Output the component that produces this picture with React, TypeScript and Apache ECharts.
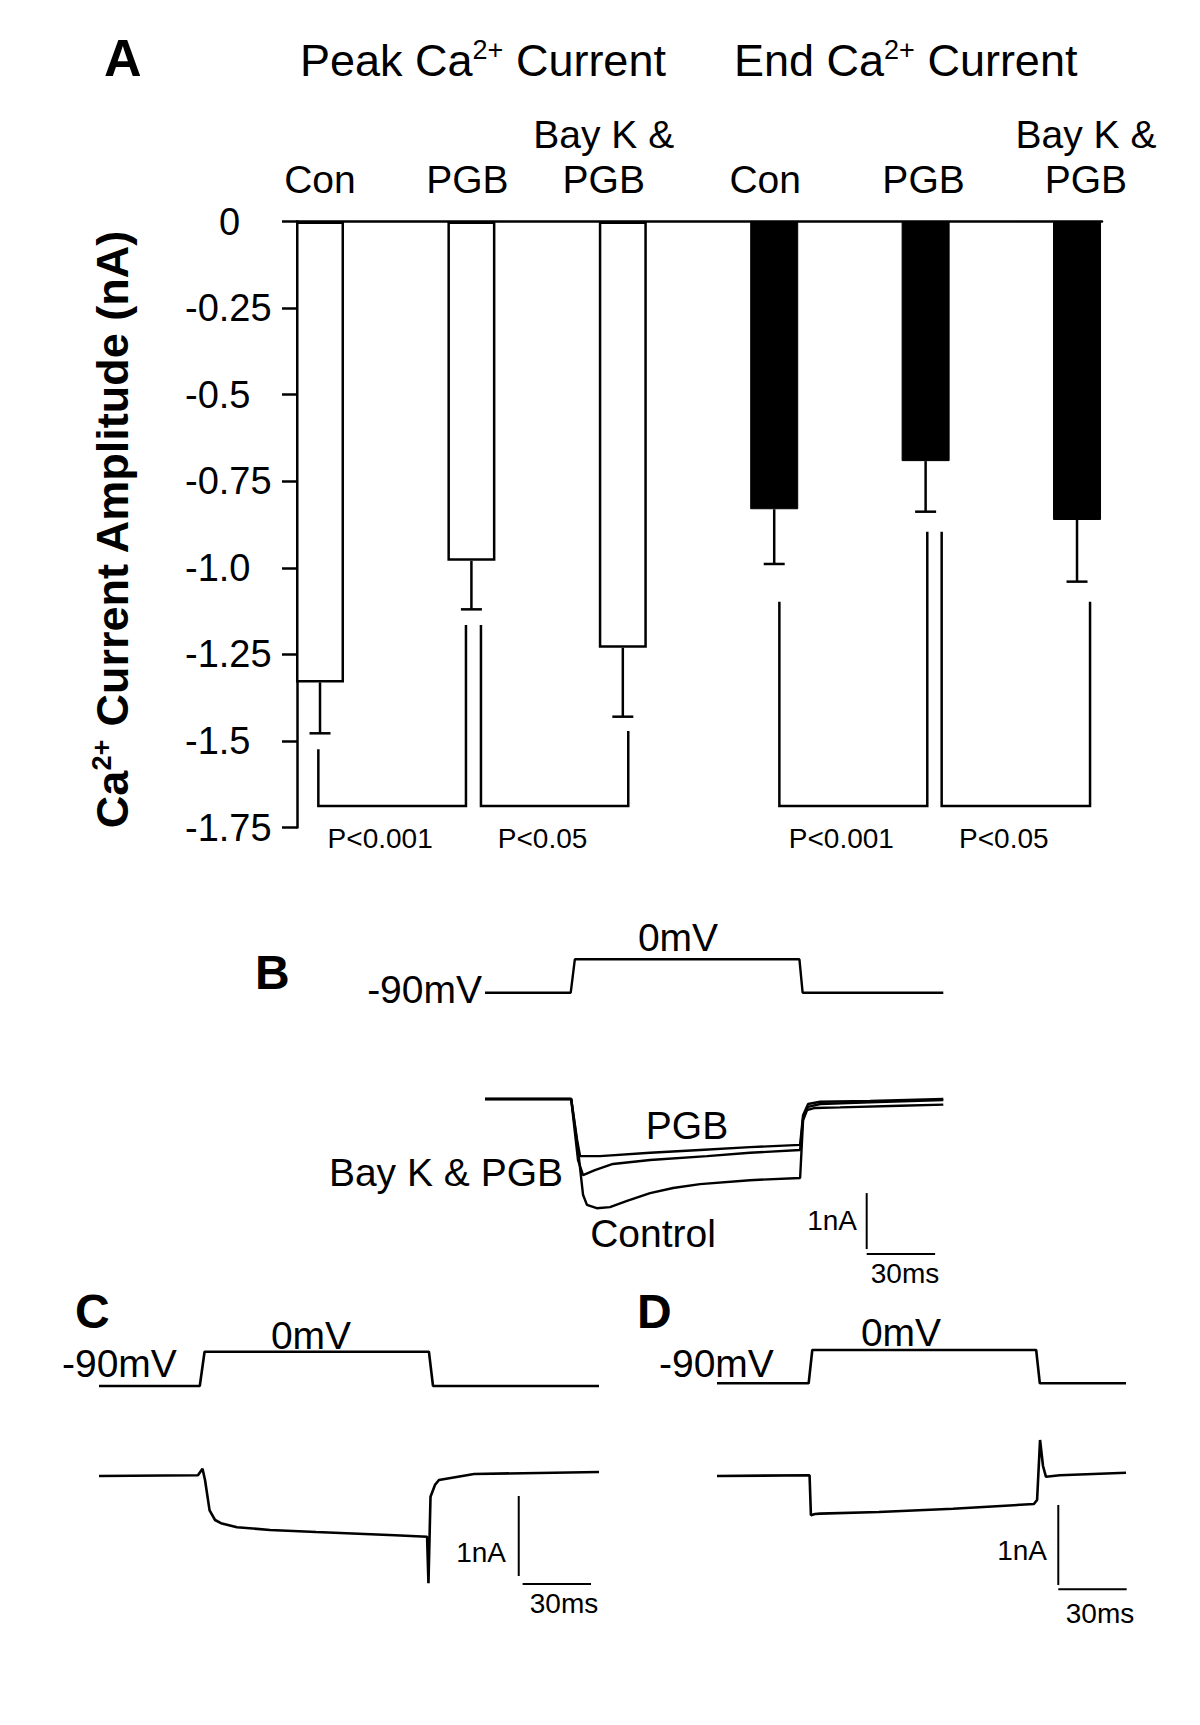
import React, { useEffect, useRef } from 'react';
import * as echarts from 'echarts';

const FONT = '"Liberation Sans", Arial, Helvetica, sans-serif';

// ---------- Panel A data ----------
const categories = ['Con', 'PGB', 'Bay K &\nPGB', 'Con', 'PGB', 'Bay K &\nPGB'];
const peakMeans = [-1.331, -0.98, -1.231];
const peakSem = [0.147, 0.14, 0.199];
const endMeans = [-0.831, -0.692, -0.862];
const endSem = [0.158, 0.146, 0.178];
const yTickLabels = ['0', '-0.25', '-0.5', '-0.75', '-1.0', '-1.25', '-1.5', '-1.75'];
const pLabels = ['P<0.001', 'P<0.05', 'P<0.001', 'P<0.05'];
// significance brackets: [from position, from top, to position, to top, bottom] (nA)
const brackets = [
  [0.989, -1.524, 1.964, -1.165, -1.688],
  [2.063, -1.165, 3.036, -1.471, -1.688],
  [4.034, -1.098, 5.011, -0.896, -1.688],
  [5.106, -0.896, 6.086, -1.098, -1.688],
];

// ---------- Panel B traces: [time ms, value] ----------
const bVoltage = [[0, -90], [37.6, -90], [39.4, 0], [137.9, 0], [139.3, -90], [201, -90]];
const bControl = [[0, 0], [37.8, 0], [40.8, -0.91], [43, -1.71], [44.7, -1.89], [49, -1.95], [54.8, -1.93], [62.3, -1.82], [72.4, -1.68], [82.5, -1.59], [94.3, -1.52], [116.2, -1.45], [138.2, -1.41], [139.5, -0.38], [141.2, -0.2], [144.7, -0.16], [155.7, -0.15], [182, -0.12], [201, -0.1]];
const bPGB = [[0, 0], [37.8, 0], [40.4, -0.73], [41.7, -1.02], [50.4, -1.02], [72.4, -0.96], [94.3, -0.91], [116.2, -0.86], [138.2, -0.82], [139.5, -0.29], [141.7, -0.09], [147, -0.05], [168.9, -0.035], [201, 0]];
const bBayK = [[0, 0], [37.8, 0], [40.8, -1.09], [43, -1.36], [48.2, -1.27], [56.1, -1.16], [72.4, -1.09], [97.4, -1.02], [116.2, -0.96], [138.2, -0.91], [139.5, -0.34], [141.7, -0.14], [147, -0.09], [168.9, -0.06], [201, -0.02]];

// ---------- Panel C traces ----------
const cVoltage = [[0, -90], [44.2, -90], [46.3, 0], [144.7, 0], [146.5, -90], [219.3, -90]];
const cCurrent = [[0, 0], [43.4, 0.01], [45.4, 0.09], [46.5, -0.05], [48.5, -0.43], [50.9, -0.55], [53.5, -0.59], [60.5, -0.64], [75, -0.675], [95.2, -0.7], [129.8, -0.74], [143.9, -0.76], [144.5, -1.34], [145.4, -0.26], [147.4, -0.11], [149.1, -0.05], [164.5, 0.025], [219.3, 0.05]];

// ---------- Panel D traces ----------
const dVoltage = [[0, -90], [40.2, -90], [41.8, 0], [140, 0], [141.6, -90], [179.4, -90]];
const dCurrent = [[0, 0], [40.6, 0.01], [41.2, -0.49], [43, -0.475], [45.2, -0.47], [71, -0.45], [103.5, -0.41], [139, -0.35], [140.4, -0.3], [141.7, 0.45], [143, 0.125], [144.3, -0.01], [150.4, 0.01], [179.4, 0.04]];

// scale bar sizes
const SCALE_NA = 1;
const SCALE_MS = 30;

function buildOption() {
  const black = '#000';
  // horizontal nudges (px) of the category labels relative to their ticks
  const labelShift = [0, -4, -19, -9, -2, 9];
  const hiddenX = (gi: number, max: number) => ({ type: 'value', gridIndex: gi, min: 0, max, show: false });
  const hiddenY = (gi: number, min: number, max: number) => ({ type: 'value', gridIndex: gi, min, max, show: false });
  const trace = (name: string, data: number[][], idx: number, width = 2.2) => ({
    type: 'line', name, data, xAxisIndex: idx, yAxisIndex: idx, symbol: 'none', showSymbol: false,
    clip: false, silent: true, lineStyle: { color: black, width },
  });
  const scaleBars = (idx: number, t: number, vTop: number, hY: number, hStart: number) => [
    trace('scale-v', [[t, vTop], [t, vTop - SCALE_NA]], idx, 2),
    trace('scale-h', [[hStart, hY], [hStart + SCALE_MS, hY]], idx, 2),
  ];

  const txt = (text: string, x: number, y: number, size: number, align = 'left', bold = false) => ({
    type: 'text', x, y,
    style: {
      text, fontSize: size, fontFamily: FONT, fontWeight: bold ? 'bold' : 'normal', fill: black,
      align, verticalAlign: 'middle', textAlign: align, textVerticalAlign: 'middle',
    },
  });
  const supText = (main1: string, sup: string, main2: string, x: number, y: number, size: number, supSize: number, bold: boolean, rotation = 0) => ({
    type: 'text', x, y, rotation,
    style: {
      text: `{a|${main1}}{s|${sup}}{a|${main2}}`,
      fontSize: size, fontFamily: FONT, fill: black,
      align: rotation ? 'center' : 'left', verticalAlign: 'middle',
      textAlign: rotation ? 'center' : 'left', textVerticalAlign: 'middle',
      rich: {
        a: { fontSize: size, fontFamily: FONT, fontWeight: bold ? 'bold' : 'normal', fill: black, lineHeight: size + 4 },
        s: { fontSize: supSize, fontFamily: FONT, fontWeight: bold ? 'bold' : 'normal', fill: black, lineHeight: supSize + 2, verticalAlign: 'top' },
      },
    },
  });

  const catRich: Record<string, any> = {};
  labelShift.forEach((s, i) => {
    catRich['c' + i] = {
      fontSize: 39, lineHeight: 45, fontFamily: FONT, color: black,
      padding: s < 0 ? [0, -2 * s, 0, 0] : [0, 0, 0, 2 * s],
    };
  });

  const errData = [
    ...peakMeans.map((m, i) => [i + 1, m, m - peakSem[i]]),
    ...endMeans.map((m, i) => [i + 4, m, m - endSem[i]]),
  ];

  return {
    animation: false,
    backgroundColor: '#fff',
    textStyle: { fontFamily: FONT },
    grid: [
      { left: 297, top: 221.5, width: 805, height: 606 },
      { left: 244.25, top: 221.5, width: 908.4, height: 20 },
      { left: 485, top: 959.3, width: 458.3, height: 33.4 },
      { left: 485, top: 1071, width: 458.3, height: 196 },
      { left: 99, top: 1351.7, width: 500, height: 34.3 },
      { left: 99, top: 1436, width: 500, height: 160 },
      { left: 717, top: 1350, width: 409, height: 33.3 },
      { left: 717, top: 1428, width: 409, height: 168 },
    ],
    xAxis: [
      {
        type: 'value', gridIndex: 0, min: 0.848, max: 6.165, position: 'top',
        axisLine: { show: true, onZero: false, lineStyle: { color: black, width: 2.5 } },
        axisTick: { show: false }, axisLabel: { show: false }, splitLine: { show: false },
      },
      {
        type: 'category', gridIndex: 1, data: categories, position: 'top', boundaryGap: true,
        axisLine: { show: false },
        axisTick: { show: true, alignWithLabel: true, length: 15, lineStyle: { color: black, width: 2 } },
        axisLabel: {
          interval: 0, margin: 20, color: black, fontSize: 39, lineHeight: 45, fontFamily: FONT,
          formatter: (v: string, i: number) => v.split('\n').map((s) => `{c${i}|${s}}`).join('\n'),
          rich: catRich,
        },
        splitLine: { show: false },
      },
      hiddenX(2, 201), hiddenX(3, 201), hiddenX(4, 219.3), hiddenX(5, 219.3), hiddenX(6, 179.4), hiddenX(7, 179.4),
    ],
    yAxis: [
      {
        type: 'value', gridIndex: 0, min: -1.75, max: 0, interval: 0.25,
        axisLine: { show: true, onZero: false, lineStyle: { color: black, width: 2.5 } },
        axisTick: { show: true, length: 15, lineStyle: { color: black, width: 2.5 } },
        axisLabel: {
          align: 'left', margin: 112, color: black, fontSize: 38, fontFamily: FONT,
          formatter: (v: number) => {
            const i = Math.round(-v / 0.25);
            const t = yTickLabels[i];
            return i === 0 ? `{z|${t}}` : t;
          },
          rich: { z: { fontSize: 38, fontFamily: FONT, color: black, padding: [0, 0, 0, 34] } },
        },
        splitLine: { show: false },
      },
      hiddenY(1, 0, 1),
      hiddenY(2, -90, 0), hiddenY(3, -3, 0.5),
      hiddenY(4, -90, 0), hiddenY(5, -1.5, 0.5),
      hiddenY(6, -90, 0), hiddenY(7, -1.5, 0.6),
    ],
    series: [
      {
        type: 'bar', name: 'Peak Ca2+ Current', xAxisIndex: 0, yAxisIndex: 0,
        data: peakMeans.map((v, i) => [i + 1, v]), barWidth: 48, barGap: '-100%', silent: true,
        itemStyle: { color: '#fff', borderColor: black, borderWidth: 2.5 },
      },
      {
        type: 'bar', name: 'End Ca2+ Current', xAxisIndex: 0, yAxisIndex: 0,
        data: endMeans.map((v, i) => [i + 4, v]), barWidth: 48, barGap: '-100%', silent: true,
        itemStyle: { color: black, borderColor: black, borderWidth: 1 },
      },
      {
        type: 'custom', name: 'SEM', xAxisIndex: 0, yAxisIndex: 0, data: errData, silent: true,
        renderItem: (params: any, api: any) => {
          const x = api.value(0), m = api.value(1), e = api.value(2);
          const p1 = api.coord([x, m]);
          const p2 = api.coord([x, e]);
          return {
            type: 'group', children: [
              { type: 'line', shape: { x1: p1[0], y1: p1[1], x2: p2[0], y2: p2[1] }, style: { stroke: black, lineWidth: 2.5 } },
              { type: 'line', shape: { x1: p2[0] - 10.5, y1: p2[1], x2: p2[0] + 10.5, y2: p2[1] }, style: { stroke: black, lineWidth: 2.5 } },
            ],
          };
        },
      },
      {
        type: 'custom', name: 'significance', xAxisIndex: 0, yAxisIndex: 0, data: brackets, silent: true,
        renderItem: (params: any, api: any) => {
          const a = api.coord([api.value(0), api.value(1)]);
          const b = api.coord([api.value(0), api.value(4)]);
          const c = api.coord([api.value(2), api.value(4)]);
          const d = api.coord([api.value(2), api.value(3)]);
          return {
            type: 'group', children: [
              { type: 'polyline', shape: { points: [a, b, c, d] }, style: { stroke: black, fill: 'none', lineWidth: 2.5 } },
              {
                type: 'text', x: (b[0] + c[0]) / 2 - 12, y: b[1] + 32,
                style: {
                  text: pLabels[params.dataIndex], fontSize: 28, fontFamily: FONT, fill: black,
                  align: 'center', verticalAlign: 'middle', textAlign: 'center', textVerticalAlign: 'middle',
                },
              },
            ],
          };
        },
      },
      trace('B voltage', bVoltage, 2, 2.4),
      trace('B Control', bControl, 3, 2.4),
      trace('B PGB', bPGB, 3, 2.4),
      trace('B Bay K & PGB', bBayK, 3, 2.4),
      ...scaleBars(3, 167.4, -1.68, -2.77, 167.4),
      trace('C voltage', cVoltage, 4, 2.6),
      trace('C current', cCurrent, 5, 2.6),
      ...scaleBars(5, 184.1, -0.25, -1.35, 185.8),
      trace('D voltage', dVoltage, 6, 2.6),
      trace('D current', dCurrent, 7, 2.6),
      ...scaleBars(7, 149.7, -0.3625, -1.416, 149.7),
    ],
    graphic: {
      elements: [
        txt('A', 104, 57.5, 52, 'left', true),
        supText('Peak Ca', '2+', ' Current', 300, 60.5, 45, 27, false),
        supText('End Ca', '2+', ' Current', 734, 60.5, 45, 27, false),
        supText('Ca', '2+', ' Current Amplitude (nA)', 112.5, 529, 45, 27, true, Math.PI / 2),
        txt('B', 255, 972, 48, 'left', true),
        txt('-90mV', 482, 989, 39, 'right'),
        txt('0mV', 678, 937, 39, 'center'),
        txt('PGB', 687, 1125, 39, 'center'),
        txt('Bay K & PGB', 563, 1172, 39, 'right'),
        txt('Control', 653, 1233, 39, 'center'),
        txt('1nA', 857, 1220, 28, 'right'),
        txt('30ms', 905, 1273, 28, 'center'),
        txt('C', 75, 1311, 48, 'left', true),
        txt('-90mV', 62, 1363, 39, 'left'),
        txt('0mV', 311, 1335, 39, 'center'),
        txt('1nA', 506, 1552, 28, 'right'),
        txt('30ms', 564, 1603, 28, 'center'),
        txt('D', 637, 1311, 48, 'left', true),
        txt('-90mV', 659, 1363, 39, 'left'),
        txt('0mV', 901, 1332, 39, 'center'),
        txt('1nA', 1047, 1550, 28, 'right'),
        txt('30ms', 1100, 1613, 28, 'center'),
      ],
    },
  };
}

export default function App() {
  const ref = useRef<HTMLDivElement>(null);
  useEffect(() => {
    if (!ref.current) return;
    const chart = echarts.init(ref.current, null, { renderer: 'svg' });
    chart.setOption(buildOption() as any);
    return () => chart.dispose();
  }, []);
  return (
    <div
      ref={ref}
      style={{ position: 'absolute', left: 0, top: 0, width: 1200, height: 1725, background: '#fff' }}
    />
  );
}
